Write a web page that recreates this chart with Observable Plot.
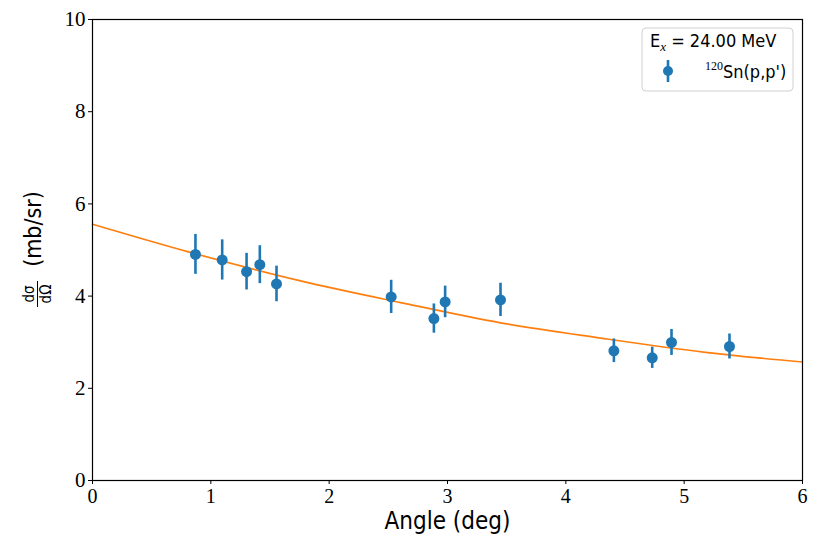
<!DOCTYPE html>
<html><head><meta charset="utf-8">
<script src="https://cdn.jsdelivr.net/npm/d3@7"></script>
<script src="https://cdn.jsdelivr.net/npm/@observablehq/plot@0.6"></script>
<style>
body{margin:0;background:#fff}
g[aria-label="x-axis tick label"], g[aria-label="y-axis tick label"]{font-family:"Liberation Serif","DejaVu Serif",serif;}
.sans{font-family:"DejaVu Sans Condensed","DejaVu Sans",sans-serif;font-stretch:condensed;}
</style>
</head><body><div id="chart"></div>
<script>
const angles = [0.870,1.096,1.302,1.414,1.555,2.524,2.885,2.980,3.448,4.406,4.730,4.893,5.383];
const xsec   = [4.905,4.784,4.530,4.682,4.264,3.983,3.513,3.874,3.918,2.814,2.662,2.994,2.907];
const errs   = [0.433,0.436,0.397,0.411,0.386,0.360,0.317,0.343,0.361,0.256,0.231,0.281,0.271];
const fitAngles = [0,0.811,1.758,2.603,3.448,4.293,5.18,6];
const fitValues = [5.56,4.96,4.33,3.86,3.42,3.09,2.78,2.57];
const xTicks = [0,1,2,3,4,5,6];
const yTicks = [0,2,4,6,8,10];
const xLabel = "Angle (deg)";
const legendTitle = ["E", "x", " = 24.00 MeV"];
const seriesName = ["120", "Sn(p,p')"];

const blue = "#1f77b4", orange = "#ff7f0e";
const data = angles.map((a,i)=>({a, y: xsec[i], e: errs[i]}));
const fit = fitAngles.map((a,i)=>({a, y: fitValues[i]}));

const plot = Plot.plot({
  width: 823, height: 542,
  marginLeft: 92, marginRight: 21, marginTop: 19, marginBottom: 62,
  style: {fontFamily: "'DejaVu Sans Condensed','DejaVu Sans',sans-serif", color: "black", background: "white"},
  x: {domain: [0,6]},
  y: {domain: [0,10]},
  marks: [
    Plot.axisX({ticks: xTicks, tickSize: 4, tickPadding: 4, fontSize: 20, label: null, tickFormat: d=>String(d)}),
    Plot.axisY({ticks: yTicks, tickSize: 4, tickPadding: 3, fontSize: 21, label: null, tickFormat: d=>String(d)}),
    Plot.line(fit, {x: "a", y: "y", stroke: orange, strokeWidth: 1.7, curve: "monotone-x"}),
    Plot.ruleX(data, {x: "a", y1: d=>d.y-d.e, y2: d=>d.y+d.e, stroke: blue, strokeWidth: 2.6}),
    Plot.dot(data, {x: "a", y: "y", r: 5.5, fill: blue, stroke: null}),
    Plot.frame({stroke: "black", strokeWidth: 1.2}),
    Plot.text([xLabel], {frameAnchor: "bottom", dy: 48, fontSize: 24, fill: "black"})
  ]
});
document.getElementById("chart").appendChild(plot);

const svg = d3.select(plot);
// y label
const yl = svg.append("g").attr("class","sans").attr("transform","rotate(-90)").attr("fill","black").attr("text-anchor","middle");
yl.append("text").attr("x",-229).attr("y",41).attr("font-size",23).text("(mb/sr)");
yl.append("text").attr("x",-294).attr("y",34).attr("font-size",15).text("dσ");
yl.append("text").attr("x",-294).attr("y",51).attr("font-size",15).text("dΩ");
yl.append("line").attr("x1",-307).attr("x2",-281).attr("y1",37.5).attr("y2",37.5).attr("stroke","black").attr("stroke-width",1);

// legend
const lg = svg.append("g").attr("class","sans").attr("text-anchor","start");
lg.append("rect").attr("x",642).attr("y",28).attr("width",151).attr("height",63).attr("rx",4)
  .attr("fill","white").attr("fill-opacity",0.85).attr("stroke","#d0d0d0");
const t1 = lg.append("text").attr("x",650).attr("y",47).attr("font-size",18).attr("fill","black");
t1.append("tspan").text(legendTitle[0]);
t1.append("tspan").attr("dy",4).attr("font-size",13).attr("font-style","italic").attr("font-family","'Liberation Serif',serif").text(legendTitle[1]);
t1.append("tspan").attr("dy",-4).text(legendTitle[2]);
lg.append("line").attr("x1",668).attr("x2",668).attr("y1",60).attr("y2",82).attr("stroke",blue).attr("stroke-width",2.6);
lg.append("circle").attr("cx",668).attr("cy",71).attr("r",5).attr("fill",blue);
const t2 = lg.append("text").attr("x",705).attr("y",78).attr("font-size",18).attr("fill","black");
t2.append("tspan").attr("dy",-8).attr("font-size",12).attr("font-family","'Liberation Serif',serif").text(seriesName[0]);
t2.append("tspan").attr("dy",8).text(seriesName[1]);
</script>
</body></html>
